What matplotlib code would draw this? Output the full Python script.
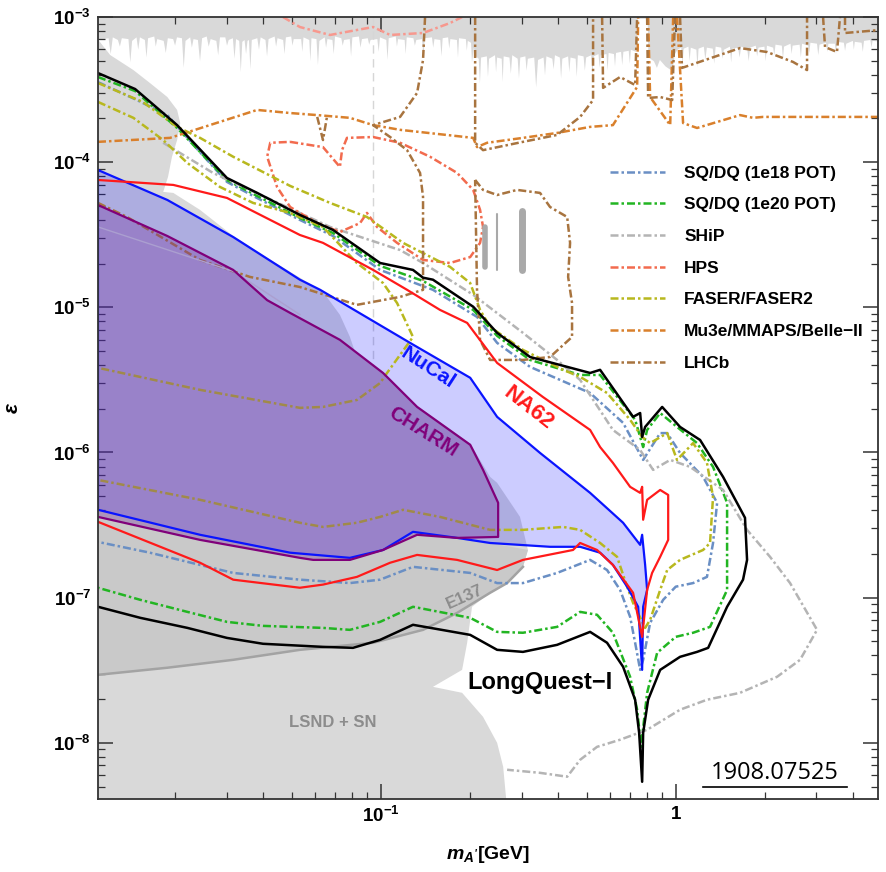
import numpy as np
import matplotlib
matplotlib.use('Agg')
import matplotlib.pyplot as plt
from matplotlib.lines import Line2D
from matplotlib.ticker import FixedLocator, FixedFormatter, LogLocator, NullFormatter

plt.rcParams['font.family'] = ['Liberation Sans', 'DejaVu Sans']
plt.rcParams['mathtext.fontset'] = 'custom'
plt.rcParams['mathtext.rm'] = 'Liberation Sans:bold'
plt.rcParams['mathtext.bf'] = 'Liberation Sans:bold'
plt.rcParams['mathtext.it'] = 'Liberation Sans:italic:bold'

# ---- data: (mass [GeV], epsilon) pairs ----
top_band = [
    (0.0110, 7.0e-4),
    (0.0119, 7.2e-4), (0.0121, 5.6e-4), (0.0123, 7.3e-4),
    (0.0128, 7.0e-4), (0.0130, 6.3e-4), (0.0132, 7.2e-4),
    (0.0139, 7.1e-4), (0.0141, 4.9e-4), (0.0143, 6.9e-4),
    (0.0148, 7.3e-4), (0.0150, 6.0e-4), (0.0152, 7.3e-4),
    (0.0158, 7.0e-4), (0.0160, 5.3e-4), (0.0162, 7.2e-4),
    (0.0170, 7.4e-4), (0.0172, 6.3e-4), (0.0174, 7.1e-4),
    (0.0183, 6.9e-4), (0.0186, 5.7e-4), (0.0189, 7.2e-4),
    (0.0197, 7.1e-4), (0.0200, 6.4e-4), (0.0203, 7.3e-4),
    (0.0211, 7.2e-4), (0.0214, 4.5e-4), (0.0217, 6.9e-4),
    (0.0225, 7.3e-4), (0.0228, 6.2e-4), (0.0231, 7.1e-4),
    (0.0239, 7.0e-4), (0.0243, 5.0e-4), (0.0247, 7.2e-4),
    (0.0256, 7.4e-4), (0.0260, 6.3e-4), (0.0264, 7.1e-4),
    (0.0276, 6.9e-4), (0.0280, 5.5e-4), (0.0284, 7.3e-4),
    (0.0296, 7.3e-4), (0.0300, 6.4e-4), (0.0304, 7.0e-4),
    (0.0314, 7.2e-4), (0.0318, 5.2e-4), (0.0322, 7.1e-4),
    (0.0330, 6.9e-4), (0.0334, 4.2e-4), (0.0338, 6.8e-4),
    (0.0344, 7.0e-4), (0.0348, 5.6e-4), (0.0352, 6.9e-4),
    (0.0356, 7.0e-4), (0.0360, 4.4e-4), (0.0364, 7.0e-4),
    (0.0380, 7.2e-4), (0.0385, 6.0e-4), (0.0390, 7.3e-4),
    (0.0405, 7.0e-4), (0.0410, 5.4e-4), (0.0415, 7.1e-4),
    (0.0435, 7.4e-4), (0.0440, 6.3e-4), (0.0445, 7.2e-4),
    (0.0465, 7.0e-4), (0.0470, 5.6e-4), (0.0475, 7.3e-4),
    (0.0495, 7.4e-4), (0.0500, 6.4e-4), (0.0505, 7.1e-4),
    (0.0535, 7.1e-4), (0.0540, 5.8e-4), (0.0545, 7.3e-4),
    (0.0570, 7.0e-4), (0.0575, 5.0e-4), (0.0580, 7.2e-4),
    (0.0603, 7.1e-4), (0.0610, 4.7e-4), (0.0617, 6.9e-4),
    (0.0643, 7.3e-4), (0.0650, 6.2e-4), (0.0657, 7.1e-4),
    (0.0683, 7.0e-4), (0.0690, 5.6e-4), (0.0697, 7.4e-4),
    (0.0732, 7.2e-4), (0.0740, 6.4e-4), (0.0748, 7.0e-4),
    (0.0782, 7.1e-4), (0.0790, 5.4e-4), (0.0798, 7.3e-4),
    (0.0840, 7.4e-4), (0.0850, 6.2e-4), (0.0860, 7.1e-4),
    (0.0900, 7.2e-4), (0.0910, 6.5e-4), (0.0920, 7.0e-4),
    (0.0970, 7.1e-4), (0.0980, 5.8e-4), (0.0990, 7.3e-4),
    (0.1040, 7.0e-4), (0.1050, 5.1e-4), (0.1060, 7.2e-4),
    (0.1120, 7.4e-4), (0.1130, 6.3e-4), (0.1140, 7.1e-4),
    (0.1200, 7.0e-4), (0.1210, 5.6e-4), (0.1220, 7.3e-4),
    (0.1285, 7.2e-4), (0.1300, 6.4e-4), (0.1315, 7.0e-4),
    (0.1375, 7.1e-4), (0.1390, 5.3e-4), (0.1405, 7.2e-4),
    (0.1485, 7.3e-4), (0.1500, 6.2e-4), (0.1515, 7.1e-4),
    (0.1585, 7.0e-4), (0.1600, 5.4e-4), (0.1615, 7.2e-4),
    (0.1685, 7.3e-4), (0.1700, 6.1e-4), (0.1715, 7.1e-4),
    (0.1805, 7.0e-4), (0.1820, 5.3e-4), (0.1835, 7.2e-4),
    (0.1935, 7.1e-4), (0.1950, 5.9e-4), (0.1965, 6.9e-4),
    (0.2015, 6.7e-4), (0.2030, 4.9e-4), (0.2060, 6.2e-4),
    (0.2089, 5.4e-4),
    (0.2140, 5.2e-4), (0.2160, 3.5e-4), (0.2180, 5.3e-4),
    (0.2280, 5.4e-4), (0.2300, 3.9e-4), (0.2320, 5.2e-4),
    (0.2430, 5.5e-4), (0.2450, 4.2e-4), (0.2470, 5.3e-4),
    (0.2560, 5.2e-4), (0.2580, 3.6e-4), (0.2600, 5.4e-4),
    (0.2720, 5.3e-4), (0.2750, 4.1e-4), (0.2780, 5.5e-4),
    (0.2900, 5.2e-4), (0.2930, 3.8e-4), (0.2960, 5.3e-4),
    (0.3080, 5.4e-4), (0.3110, 4.3e-4), (0.3140, 5.2e-4),
    (0.3300, 5.3e-4), (0.3350, 3.3e-4), (0.3400, 5.1e-4),
    (0.3550, 5.3e-4), (0.3590, 4.0e-4), (0.3630, 5.4e-4),
    (0.3800, 5.2e-4), (0.3840, 4.4e-4), (0.3880, 5.5e-4),
    (0.4030, 5.3e-4), (0.4070, 3.8e-4), (0.4110, 5.2e-4),
    (0.4300, 5.4e-4), (0.4340, 4.2e-4), (0.4380, 5.3e-4),
    (0.4560, 5.2e-4), (0.4600, 3.9e-4), (0.4640, 5.5e-4),
    (0.4850, 5.4e-4), (0.4900, 4.3e-4), (0.4950, 5.3e-4),
    (0.5150, 5.5e-4), (0.5200, 4.0e-4), (0.5250, 5.4e-4),
    (0.5450, 5.6e-4), (0.5500, 4.5e-4), (0.5550, 5.5e-4),
    (0.5800, 5.6e-4), (0.5850, 4.3e-4), (0.5900, 5.7e-4),
    (0.6150, 5.6e-4), (0.6200, 4.6e-4), (0.6250, 5.7e-4),
    (0.6500, 5.8e-4), (0.6560, 4.7e-4), (0.6620, 5.8e-4),
    (0.6900, 5.9e-4), (0.6960, 4.8e-4), (0.7020, 6.0e-4),
    (0.7300, 5.8e-4), (0.7400, 9.8e-4), (0.8000, 9.8e-4),
    (0.8050, 5.3e-4), (0.8400, 5.0e-4), (0.8600, 4.5e-4), (0.8800, 5.1e-4),
    (0.9200, 4.6e-4), (0.9500, 4.4e-4), (0.9700, 4.3e-4), (0.9900, 5.6e-4),
    (1.010, 6.0e-4), (1.040, 6.2e-4), (1.050, 4.7e-4), (1.060, 6.1e-4),
    (1.100, 6.3e-4), (1.110, 5.0e-4), (1.120, 6.2e-4),
    (1.170, 6.0e-4), (1.180, 4.5e-4), (1.190, 6.1e-4),
    (1.240, 6.3e-4), (1.255, 5.1e-4), (1.270, 6.2e-4),
    (1.330, 6.1e-4), (1.345, 4.8e-4), (1.360, 6.3e-4),
    (1.420, 6.2e-4), (1.435, 5.2e-4), (1.450, 6.0e-4),
    (1.520, 6.3e-4), (1.535, 4.9e-4), (1.550, 6.1e-4),
    (1.620, 6.2e-4), (1.640, 5.3e-4), (1.660, 6.3e-4),
    (1.740, 6.1e-4), (1.760, 5.0e-4), (1.780, 6.2e-4),
    (1.860, 6.4e-4), (1.880, 5.4e-4), (1.900, 6.2e-4),
    (1.990, 6.3e-4), (2.010, 5.0e-4), (2.030, 6.4e-4),
    (2.130, 6.2e-4), (2.150, 5.5e-4), (2.170, 6.5e-4),
    (2.280, 6.4e-4), (2.300, 5.2e-4), (2.320, 6.3e-4),
    (2.440, 6.6e-4), (2.460, 5.6e-4), (2.480, 6.4e-4),
    (2.620, 6.5e-4), (2.645, 5.3e-4), (2.670, 6.6e-4),
    (2.800, 6.4e-4), (2.825, 5.7e-4), (2.850, 6.7e-4),
    (3.000, 6.6e-4), (3.030, 5.5e-4), (3.060, 6.5e-4),
    (3.220, 6.7e-4), (3.250, 5.8e-4), (3.280, 6.6e-4),
    (3.450, 6.6e-4), (3.480, 5.6e-4), (3.510, 6.8e-4),
    (3.700, 6.7e-4), (3.735, 5.9e-4), (3.770, 6.6e-4),
    (3.970, 6.9e-4), (4.000, 6.0e-4), (4.030, 6.8e-4),
    (4.250, 6.7e-4), (4.290, 5.8e-4), (4.330, 6.9e-4),
    (4.550, 7.0e-4), (4.590, 6.2e-4), (4.630, 6.9e-4),
    (5.000, 6.8e-4)]

beam_dump_lsnd = [(0.0110, 7.0e-4), (0.0121, 5.47e-4), (0.0145, 4.31e-4), (0.0165, 3.51e-4),
                  (0.0189, 2.81e-4), (0.0204, 2.29e-4), (0.0209, 1.86e-4), (0.0204, 1.42e-4),
                  (0.0196, 1.09e-4), (0.0190, 7.91e-5), (0.0183, 6.24e-5), (0.0198, 6.14e-5),
                  (0.0244, 4.69e-5), (0.0316, 3.10e-5), (0.0412, 2.19e-5), (0.0532, 1.60e-5),
                  (0.0637, 1.28e-5), (0.0727, 8.87e-6), (0.0786, 6.25e-6), (0.0818, 4.93e-6),
                  (0.1018, 3.59e-6), (0.1328, 2.09e-6), (0.2010, 1.15e-6), (0.2348, 6.79e-7),
                  (0.2480, 6.18e-7), (0.2965, 3.60e-7), (0.3155, 2.13e-7), (0.3034, 1.63e-7),
                  (0.2681, 1.26e-7), (0.2348, 1.08e-7), (0.2039, 8.65e-8), (0.1963, 4.89e-8),
                  (0.1887, 3.18e-8), (0.1503, 2.43e-8), (0.1887, 2.21e-8), (0.2222, 1.51e-8),
                  (0.2480, 1.0e-8), (0.2600, 6.84e-9), (0.2681, 3.5e-9), (0.0100, 3.5e-9)]

e137 = [(0.0110, 2.94e-8), (0.0189, 3.29e-8), (0.0316, 3.73e-8), (0.0532, 4.37e-8), (0.0942, 4.89e-8),
        (0.1391, 6.00e-8), (0.1815, 7.85e-8), (0.2348, 1.08e-7), (0.2681, 1.26e-7), (0.3034, 1.63e-7),
        (0.3155, 2.13e-7), (0.2348, 2.38e-7), (0.1815, 2.58e-7), (0.1286, 2.84e-7), (0.1018, 2.13e-7),
        (0.0786, 1.88e-7), (0.0493, 2.04e-7), (0.0244, 2.71e-7), (0.0110, 4.03e-7)]

charm_faint = [(0.0110, 3.58e-5), (0.0316, 1.77e-5), (0.0391, 1.34e-5), (0.0532, 8.9e-6)]

nucal = [(0.0110, 8.83e-5), (0.0189, 5.49e-5), (0.0316, 3.05e-5), (0.0532, 1.55e-5), (0.0623, 1.32e-5),
         (0.1257, 5.69e-6), (0.2010, 3.27e-6), (0.2480, 1.76e-6), (0.3467, 9.93e-7), (0.5125, 5.27e-7),
         (0.6630, 3.28e-7), (0.7574, 2.31e-7), (0.7693, 2.71e-7), (0.7875, 1.68e-7), (0.7998, 1.13e-7),
         (0.7753, 8.65e-8), (0.7693, 3.18e-8), (0.7457, 8.65e-8), (0.6840, 1.19e-7), (0.6124, 1.68e-7),
         (0.5541, 2.04e-7), (0.4741, 2.24e-7), (0.3749, 2.24e-7), (0.2348, 2.38e-7), (0.1815, 2.58e-7),
         (0.1286, 2.84e-7), (0.1018, 2.13e-7), (0.0786, 1.88e-7), (0.0493, 2.04e-7), (0.0244, 2.71e-7),
         (0.0110, 4.03e-7)]

charm = [(0.0110, 5.07e-5), (0.0189, 3.10e-5), (0.0316, 1.81e-5), (0.0412, 1.12e-5), (0.0493, 9.15e-6),
         (0.0727, 5.97e-6), (0.1018, 3.53e-6), (0.1328, 2.06e-6), (0.2010, 1.13e-6), (0.2222, 7.59e-7),
         (0.2500, 4.50e-7), (0.2500, 2.62e-7), (0.1815, 2.58e-7), (0.1328, 2.71e-7), (0.1018, 2.13e-7),
         (0.0786, 1.82e-7), (0.0590, 1.82e-7), (0.0532, 1.88e-7), (0.0244, 2.50e-7), (0.0110, 3.60e-7)]

na62 = [(0.0110, 7.54e-5), (0.0198, 6.97e-5), (0.0301, 5.67e-5), (0.0532, 3.15e-5), (0.0637, 2.78e-5),
        (0.0942, 1.81e-5), (0.1228, 1.32e-5), (0.1588, 9.60e-6), (0.1963, 7.81e-6), (0.2480, 4.14e-6),
        (0.3547, 2.41e-6), (0.5125, 1.43e-6), (0.5541, 1.09e-6), (0.6124, 8.48e-7), (0.7003, 5.80e-7),
        (0.7574, 5.27e-7), (0.7693, 5.80e-7), (0.7753, 3.44e-7), (0.7998, 4.72e-7), (0.8855, 5.52e-7),
        (0.9427, 5.10e-7), (0.9427, 2.50e-7), (0.8855, 1.91e-7), (0.8315, 1.48e-7), (0.7998, 1.13e-7),
        (0.7693, 5.37e-8), (0.7168, 1.08e-7), (0.6124, 1.68e-7), (0.5410, 2.13e-7), (0.4741, 2.38e-7),
        (0.4485, 2.13e-7), (0.3034, 1.82e-7), (0.2480, 1.55e-7), (0.1815, 1.82e-7), (0.1328, 1.97e-7),
        (0.1076, 1.74e-7), (0.0830, 1.39e-7), (0.0637, 1.23e-7), (0.0532, 1.17e-7), (0.0316, 1.33e-7),
        (0.0244, 1.74e-7), (0.0110, 3.33e-7)]

longquest = [(0.0110, 4.11e-4), (0.0147, 3.19e-4), (0.0204, 1.80e-4), (0.0301, 7.78e-5), (0.0381, 6.14e-5),
             (0.0532, 4.33e-5), (0.0689, 3.41e-5), (0.0995, 2.02e-5), (0.1286, 1.81e-5), (0.1391, 1.60e-5),
             (0.1503, 1.55e-5), (0.2057, 1.01e-5), (0.2480, 6.67e-6), (0.3206, 4.55e-6), (0.5125, 3.53e-6),
             (0.5541, 3.71e-6), (0.7168, 1.76e-6), (0.7574, 1.87e-6), (0.7693, 1.28e-6), (0.7875, 1.50e-6),
             (0.8994, 2.06e-6), (1.034, 1.50e-6), (1.209, 1.22e-6), (1.447, 6.79e-7), (1.717, 3.55e-7),
             (1.745, 1.82e-7), (1.691, 1.33e-7), (1.493, 8.65e-8), (1.288, 4.51e-8), (1.181, 4.23e-8),
             (1.034, 3.91e-8), (0.8855, 3.18e-8), (0.8061, 1.98e-8), (0.7753, 1.17e-8), (0.7693, 5.39e-9),
             (0.7515, 1.17e-8), (0.7283, 1.98e-8), (0.6630, 3.34e-8), (0.5849, 4.89e-8), (0.5125, 5.81e-8),
             (0.3961, 4.73e-8), (0.3034, 4.23e-8), (0.2480, 4.37e-8), (0.2010, 5.54e-8), (0.1286, 6.50e-8),
             (0.0995, 5.12e-8), (0.0805, 4.51e-8), (0.0637, 4.58e-8), (0.0399, 4.81e-8), (0.0301, 5.28e-8),
             (0.0221, 6.19e-8), (0.0153, 7.26e-8), (0.0110, 8.65e-8)]

sqdq_1e20 = [(0.0110, 3.86e-4), (0.0147, 3.09e-4), (0.0204, 1.72e-4), (0.0301, 7.53e-5), (0.0381, 5.85e-5),
             (0.0532, 4.13e-5), (0.0689, 3.25e-5), (0.0995, 1.93e-5), (0.1391, 1.52e-5), (0.2057, 9.6e-6),
             (0.2480, 6.36e-6), (0.3206, 4.34e-6), (0.4741, 3.42e-6), (0.5541, 3.42e-6), (0.7283, 1.68e-6),
             (0.7753, 1.09e-6), (0.7998, 1.43e-6), (0.8855, 1.87e-6), (1.010, 1.50e-6), (1.181, 1.16e-6),
             (1.338, 7.96e-7), (1.493, 4.50e-7), (1.493, 1.13e-7), (1.307, 6.29e-8), (1.145, 5.73e-8),
             (1.0, 5.37e-8), (0.8649, 4.17e-8), (0.7998, 2.21e-8), (0.7693, 1.10e-8), (0.7633, 9.4e-9),
             (0.7398, 1.69e-8), (0.7003, 2.85e-8), (0.6124, 5.73e-8), (0.5410, 7.62e-8), (0.4741, 7.98e-8),
             (0.3961, 6.29e-8), (0.3034, 5.73e-8), (0.2480, 5.81e-8), (0.2010, 7.26e-8), (0.1286, 8.65e-8),
             (0.0995, 6.81e-8), (0.0786, 6.0e-8), (0.0637, 6.19e-8), (0.0399, 6.39e-8), (0.0301, 6.81e-8),
             (0.0221, 7.98e-8), (0.0153, 9.66e-8), (0.0110, 1.17e-7)]

sqdq_1e18 = [(0.0110, 3.56e-4), (0.0149, 2.68e-4), (0.0189, 2.11e-4), (0.0244, 1.17e-4), (0.0301, 7.31e-5),
             (0.0381, 5.66e-5), (0.0532, 4.0e-5), (0.0689, 3.10e-5), (0.0995, 1.81e-5), (0.1503, 1.32e-5),
             (0.2120, 8.59e-6), (0.2480, 5.69e-6), (0.3206, 3.89e-6), (0.5125, 2.57e-6), (0.6630, 1.60e-6),
             (0.7753, 8.89e-7), (0.8855, 1.36e-6), (0.9354, 1.36e-6), (1.034, 9.93e-7), (1.238, 6.79e-7),
             (1.381, 4.50e-7), (1.338, 2.38e-7), (1.276, 1.39e-7), (1.145, 1.26e-7), (1.0, 1.19e-7),
             (0.9064, 9.66e-8), (0.8187, 6.70e-8), (0.7753, 3.73e-8), (0.7574, 3.18e-8), (0.7283, 4.89e-8),
             (0.7003, 7.38e-8), (0.6477, 1.13e-7), (0.5849, 1.55e-7), (0.5125, 1.82e-7), (0.3961, 1.48e-7),
             (0.3034, 1.26e-7), (0.2480, 1.26e-7), (0.2010, 1.48e-7), (0.1286, 1.63e-7), (0.0995, 1.33e-7),
             (0.0786, 1.26e-7), (0.0532, 1.33e-7), (0.0316, 1.48e-7), (0.0244, 1.68e-7), (0.0165, 2.04e-7),
             (0.0110, 2.42e-7)]

ship = [(0.0183, 1.36e-4), (0.0270, 8.43e-5), (0.0673, 3.58e-5), (0.1163, 2.48e-5), (0.1391, 2.02e-5),
        (0.2057, 1.22e-5), (0.3034, 6.67e-6), (0.3961, 4.34e-6), (0.4741, 3.16e-6), (0.6124, 1.43e-6),
        (0.7574, 1.04e-6), (0.8380, 7.59e-7), (0.9575, 8.89e-7), (1.118, 7.96e-7), (1.447, 5.52e-7),
        (1.745, 2.93e-7), (2.088, 1.91e-7), (2.441, 1.26e-7), (3.013, 6.00e-8), (2.639, 3.73e-8),
        (2.206, 2.85e-8), (1.652, 2.21e-8), (1.276, 1.98e-8), (1.034, 1.69e-8), (0.7998, 1.23e-8),
        (0.6477, 1.05e-8), (0.5410, 9.38e-9), (0.4741, 7.64e-9), (0.4285, 5.84e-9), (0.3467, 6.21e-9),
        (0.2681, 6.52e-9)]

faser2 = [(0.0110, 3.51e-4), (0.0156, 2.60e-4), (0.0204, 1.75e-4), (0.0244, 1.47e-4), (0.0316, 1.09e-4),
          (0.0493, 6.86e-5), (0.0673, 5.24e-5), (0.0898, 4.19e-5), (0.1190, 2.78e-5), (0.1717, 1.90e-5),
          (0.2010, 1.47e-5), (0.2171, 9.60e-6), (0.2348, 7.33e-6), (0.3034, 5.09e-6), (0.4151, 3.71e-6),
          (0.4741, 3.32e-6), (0.5849, 2.57e-6), (0.7003, 1.68e-6), (0.7693, 1.28e-6), (0.8187, 1.16e-6),
          (0.9354, 1.36e-6), (1.010, 8.89e-7), (1.145, 1.16e-6), (1.276, 8.48e-7), (1.338, 4.94e-7),
          (1.307, 2.38e-7), (1.238, 2.13e-7), (1.034, 1.82e-7), (0.9354, 1.55e-7), (0.8855, 1.13e-7),
          (0.8187, 7.03e-8), (0.7875, 6.19e-8), (0.7168, 9.20e-8), (0.6840, 1.19e-7), (0.6326, 1.91e-7),
          (0.5541, 2.38e-7), (0.4741, 2.93e-7), (0.4151, 3.07e-7), (0.3034, 2.93e-7), (0.2348, 2.93e-7),
          (0.1588, 3.60e-7), (0.1190, 4.03e-7), (0.0995, 3.60e-7), (0.0830, 3.28e-7), (0.0637, 3.07e-7),
          (0.0532, 3.28e-7), (0.0244, 4.72e-7), (0.0110, 6.47e-7)]

faser1 = [(0.0110, 2.60e-4), (0.0145, 2.02e-4), (0.0183, 1.42e-4), (0.0221, 9.87e-5), (0.0285, 6.75e-5),
          (0.0369, 5.24e-5), (0.0493, 4.47e-5), (0.0637, 3.58e-5), (0.0830, 2.02e-5), (0.1018, 1.47e-5),
          (0.1136, 1.07e-5), (0.1286, 6.25e-6), (0.1050, 3.53e-6), (0.0995, 3.01e-6), (0.0830, 2.30e-6),
          (0.0637, 2.06e-6), (0.0532, 2.03e-6), (0.0244, 2.70e-6), (0.0110, 3.83e-6)]

hps_low = [(0.0493, 1.38e-4), (0.0637, 1.27e-4), (0.0727, 9.27e-5), (0.0739, 1.21e-4), (0.0768, 1.47e-4),
           (0.0942, 1.49e-4), (0.1163, 1.36e-4), (0.1469, 1.09e-4), (0.1815, 8.43e-5), (0.2057, 6.44e-5),
           (0.2171, 4.69e-5), (0.2222, 3.58e-5), (0.2171, 2.78e-5), (0.2010, 2.22e-5), (0.1717, 2.02e-5),
           (0.1391, 2.12e-5), (0.1136, 2.78e-5), (0.0971, 3.58e-5), (0.0898, 4.47e-5), (0.0851, 3.81e-5),
           (0.0727, 3.30e-5), (0.0609, 3.81e-5), (0.0532, 4.47e-5), (0.0493, 4.91e-5), (0.0445, 6.75e-5),
           (0.0412, 1.09e-4), (0.0422, 1.36e-4), (0.0493, 1.38e-4)]

hps_top = [(0.0466, 1.0e-3), (0.0532, 8.53e-4), (0.0673, 7.52e-4), (0.0830, 8.14e-4), (0.0942, 8.53e-4),
           (0.1076, 7.52e-4), (0.1391, 7.76e-4), (0.1717, 9.09e-4), (0.1887, 1.0e-3)]

mu3e = [(0.0110, 1.38e-4), (0.0193, 1.47e-4), (0.0381, 2.29e-4), (0.0493, 2.18e-4), (0.0609, 2.11e-4),
        (0.0786, 2.02e-4), (0.0942, 1.80e-4), (0.1163, 1.67e-4), (0.2057, 1.47e-4), (0.2120, 1.27e-4),
        (0.2293, 1.36e-4), (0.3034, 1.47e-4), (0.3961, 1.59e-4), (0.5125, 1.75e-4), (0.6124, 1.80e-4),
        (0.7398, 3.30e-4), (0.7457, 1.0e-3), (np.nan, np.nan),
        (0.8061, 1.0e-3), (0.8187, 2.81e-4), (0.9575, 1.80e-4), (0.9802, 1.0e-3), (np.nan, np.nan),
        (1.0104, 1.0e-3), (1.059, 1.86e-4), (1.181, 1.72e-4), (1.652, 2.11e-4), (1.828, 2.02e-4),
        (1.977, 2.05e-4), (4.93, 2.05e-4)]

lhcb_top = [(0.2089, 1.0e-3), (0.2089, 1.36e-4), (0.2222, 1.21e-4), (0.3034, 1.38e-4), (0.3961, 1.54e-4),
            (0.4741, 2.05e-4), (0.5245, 2.68e-4), (0.5245, 1.0e-3), (np.nan, np.nan),
            (0.5628, 1.0e-3), (0.5672, 3.25e-4), (0.6477, 3.86e-4), (0.7283, 3.40e-4), (0.7398, 1.0e-3),
            (np.nan, np.nan),
            (0.7998, 1.0e-3), (0.8061, 2.77e-4), (0.8855, 2.81e-4), (0.9726, 2.68e-4), (0.9944, 1.0e-3),
            (np.nan, np.nan),
            (1.034, 1.0e-3), (1.050, 4.46e-4), (1.652, 6.11e-4), (2.040, 5.74e-4), (2.499, 4.90e-4),
            (2.787, 4.31e-4), (2.787, 1.0e-3), (np.nan, np.nan),
            (3.158, 1.0e-3), (3.207, 6.21e-4), (3.521, 5.74e-4), (3.604, 1.0e-3), (np.nan, np.nan),
            (3.748, 1.0e-3), (3.748, 7.76e-4), (4.93, 8.14e-4), (np.nan, np.nan),
            (0.0609, 2.05e-4), (0.0637, 1.42e-4), (0.0657, 2.05e-4)]

lhcb_displaced = [(0.0110, 5.24e-5), (0.0138, 4.19e-5), (0.0244, 2.12e-5), (0.0360, 1.62e-5),
                  (0.0532, 1.38e-5), (0.0830, 1.04e-5), (0.1163, 1.18e-5), (0.1391, 1.32e-5),
                  (0.1391, 5.76e-5), (0.1359, 8.43e-5), (0.1228, 1.21e-4), (0.1076, 1.49e-4),
                  (0.0942, 1.80e-4), (0.1163, 2.05e-4), (0.1328, 3.00e-4), (0.1391, 5.06e-4),
                  (0.1413, 1.0e-3)]

lhcb_loop = [(0.2089, 7.54e-5), (0.2222, 6.44e-5), (0.2480, 5.94e-5), (0.2898, 6.44e-5), (0.3467, 6.14e-5),
             (0.3749, 4.91e-5), (0.4285, 4.19e-5), (0.4383, 2.78e-5), (0.4317, 1.62e-5), (0.4451, 1.07e-5),
             (0.4451, 6.25e-6), (0.3749, 4.55e-6), (0.3034, 4.34e-6), (0.2348, 4.34e-6), (0.2171, 5.97e-6),
             (0.2120, 1.32e-5), (0.2089, 7.54e-5)]

# small grey vertical marks near 0.2-0.3 GeV: (mass, eps_low, eps_high, width)
grey_marks = [(0.226, 1.9e-5, 3.6e-5, 4.0), (0.248, 1.8e-5, 4.4e-5, 1.5), (0.300, 1.8e-5, 4.6e-5, 5.0)]

legend_labels = ['SQ/DQ (1e18 POT)', 'SQ/DQ (1e20 POT)', 'SHiP', 'HPS', 'FASER/FASER2',
                 'Mu3e/MMAPS/Belle\u2212II', 'LHCb']
legend_colors = ['#6a8fc4', '#22b522', '#b4b4b4', '#f26b4e', '#b8b81e', '#d9802c', '#a8743f']


def xy(pairs):
    a = np.array(pairs, dtype=float)
    return a[:, 0], a[:, 1]


fig, ax = plt.subplots(figsize=(8.86, 8.72), dpi=100)
fig.subplots_adjust(left=0.1106, right=0.991, bottom=0.0837, top=0.9805)
ax.set_xscale('log')
ax.set_yscale('log')

dd = (0, (3.2, 1.2, 1.0, 1.2))

# grey excluded regions
m, e = xy(top_band)
ax.fill_between(m, e, 2e-3, color='#d9d9d9', lw=0, zorder=1)
ax.plot([0.094, 0.094], [1e-3, 3e-7], color='#d6d6d6', lw=1, ls=(0, (6, 4)), zorder=1.2)
m, e = xy(beam_dump_lsnd)
ax.fill(m, e, color='#d9d9d9', lw=0, zorder=1.5)
m, e = xy(e137)
ax.fill(m, e, color='#c9c9c9', lw=0, zorder=1.6)
ax.plot(m[:10], e[:10], color='#a3a3a3', lw=1.8, zorder=1.7)

# NuCal filled region
m, e = xy(nucal)
ax.fill(m, e, facecolor=(0, 0, 1, 0.2), edgecolor='none', zorder=2)

# projections (dash-dot)
dashed_sets = [(sqdq_1e18, legend_colors[0]), (sqdq_1e20, legend_colors[1]), (ship, legend_colors[2]),
               (hps_low, legend_colors[3]), (hps_top, '#f7988e'), (faser2, legend_colors[4]),
               (faser1, legend_colors[4]), (mu3e, legend_colors[5]), (lhcb_top, legend_colors[6]),
               (lhcb_displaced, legend_colors[6]), (lhcb_loop, legend_colors[6])]
for pairs, col in dashed_sets:
    m, e = xy(pairs)
    ax.plot(m, e, color=col, lw=1.8, ls=dd, zorder=3)

for mm, lo, hi, w in grey_marks:
    ax.plot([mm, mm], [lo, hi], color='#a9a9a9', lw=w, solid_capstyle='round', zorder=3)

# CHARM filled region
m, e = xy(charm)
ax.fill(m, e, facecolor='#74319f', alpha=0.34, edgecolor='none', zorder=3.5)
m, e = xy(charm_faint)
ax.plot(m, e, color='#ab9fd0', lw=1.0, zorder=3.6)

# solid contours
m, e = xy(nucal)
ax.plot(np.append(m, m[0]), np.append(e, e[0]), color='#0a14ff', lw=1.6, zorder=4)
m, e = xy(charm)
ax.plot(m, e, color='#80007a', lw=1.6, zorder=4)
m, e = xy(na62)
ax.plot(m, e, color='#ff1a1a', lw=1.6, zorder=4)
m, e = xy(longquest)
ax.plot(m, e, color='black', lw=1.8, zorder=4.5)

# labels on the plot
ax.text(0.1445, 3.83e-6, 'NuCal', color='#0a14ff', fontsize=15, fontweight='bold',
        rotation=-33, ha='center', va='center', zorder=6)
ax.text(0.1391, 1.39e-6, 'CHARM', color='#80007a', fontsize=15, fontweight='bold',
        rotation=-32, ha='center', va='center', zorder=6)
ax.text(0.316, 2.03e-6, 'NA62', color='#ff1a1a', fontsize=16, fontweight='bold',
        rotation=-38, ha='center', va='center', zorder=6)
ax.text(0.193, 1.01e-7, 'E137', color='#8c8c8c', fontsize=12, fontweight='bold',
        rotation=24, ha='center', va='center', zorder=6)
ax.text(0.0689, 1.37e-8, 'LSND + SN', color='#8c8c8c', fontsize=12, fontweight='bold',
        ha='center', va='center', zorder=6)
ax.text(0.3467, 2.59e-8, 'LongQuest\u2212I', color='black', fontsize=17, fontweight='bold',
        ha='center', va='center', zorder=6)
ax.text(0.868, 0.033, '1908.07525', transform=ax.transAxes, fontsize=17, family='Open Sans',
        ha='center', va='center', zorder=6)
ax.plot([0.776, 0.960], [0.0150, 0.0150], transform=ax.transAxes, color='black', lw=1.2, zorder=6)

# legend
handles = [Line2D([], [], color=c, lw=1.8, ls=dd) for c in legend_colors]
ax.legend(handles, legend_labels, loc='upper left', bbox_to_anchor=(0.656, 0.810), frameon=False,
          prop={'family': 'Liberation Sans', 'weight': 'bold', 'size': 12.5},
          handlelength=3.2, handletextpad=1.1, labelspacing=0.95, borderaxespad=0, borderpad=0)

# axes
ax.set_xlim(0.011, 4.85)
ax.set_ylim(4.1e-9, 1e-3)
ax.xaxis.set_major_locator(FixedLocator([0.1, 1]))
ax.xaxis.set_major_formatter(FixedFormatter([r'$10^{-1}$', r'$1$']))
ax.xaxis.set_minor_locator(LogLocator(base=10, subs=np.arange(2, 10), numticks=30))
ax.xaxis.set_minor_formatter(NullFormatter())
ax.yaxis.set_major_locator(FixedLocator(10.0 ** np.arange(-8, -2)))
ax.yaxis.set_major_formatter(FixedFormatter([r'$10^{-%d}$' % k for k in range(8, 2, -1)]))
ax.yaxis.set_minor_locator(LogLocator(base=10, subs=np.arange(2, 10), numticks=50))
ax.yaxis.set_minor_formatter(NullFormatter())
ax.tick_params(which='both', direction='in', top=True, right=True, color='#333333')
ax.tick_params(which='major', length=11, width=1.1, labelsize=13.5, pad=5)
ax.tick_params(which='minor', length=5, width=0.9)
for sp in ax.spines.values():
    sp.set_color('#333333')
    sp.set_linewidth(1.3)
    sp.set_zorder(7)

ax.set_xlabel(r'$m_{A^{\prime}}$[GeV]', fontsize=14, fontweight='bold')
ax.xaxis.set_label_coords(0.5, -0.058)
ax.set_ylabel(r'$\varepsilon$', fontsize=15)
ax.yaxis.set_label_coords(-0.097, 0.5)

fig.savefig('out.png', dpi=100)
